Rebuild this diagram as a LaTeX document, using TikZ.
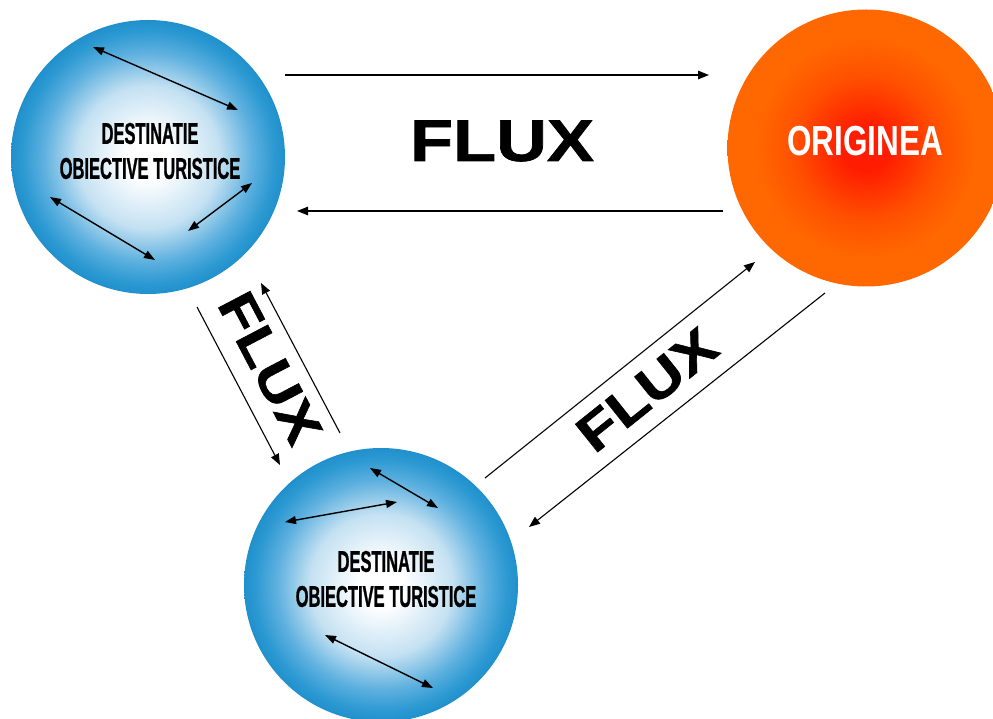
\documentclass[tikz,border=0pt]{standalone}
\usepackage{fontspec}
\setmainfont{Liberation Sans}
\newfontfamily\narrowbold[FakeStretch=0.55,FakeBold=0.8]{Liberation Sans}
\newfontfamily\midbold[FakeStretch=0.75]{Liberation Sans}
\newfontfamily\widebold[FakeStretch=1.2,FakeBold=1.2]{Liberation Sans}
\usetikzlibrary{arrows.meta}

\definecolor{bluelight}{RGB}{196,225,242}
\definecolor{bluemid}{RGB}{95,177,223}
\definecolor{blueout}{RGB}{44,153,210}
\definecolor{blueedge}{RGB}{32,144,204}
\definecolor{orcore}{RGB}{255,28,0}
\definecolor{ormid}{RGB}{255,80,0}
\definecolor{orout}{RGB}{255,104,0}

% radial shadings: the middle 50bp square is fitted to the circle
\pgfdeclareradialshading{bluesphere}{\pgfpoint{0bp}{0bp}}{%
  color(0bp)=(white); color(4bp)=(white); color(13bp)=(bluelight);
  color(19bp)=(bluemid); color(23bp)=(blueout); color(25bp)=(blueedge);
  color(50bp)=(blueedge)}
\pgfdeclareradialshading{orangesphere}{\pgfpoint{0bp}{0bp}}{%
  color(0bp)=(orcore); color(4bp)=(orcore); color(13bp)=(ormid);
  color(20bp)=(orout); color(25bp)=(orout); color(50bp)=(orout)}

\tikzset{
  dest/.style={circle, minimum size=274pt, inner sep=0pt, shading=bluesphere},
  orig/.style={circle, minimum size=277pt, inner sep=0pt, shading=orangesphere},
  flow/.style={line width=1.1pt, -{Triangle[length=11pt,width=8.5pt]}},
  move/.style={line width=1.4pt, {Triangle[length=11pt,width=8pt]}-{Triangle[length=11pt,width=8pt]}},
  desttext/.style={align=center, inner sep=0pt,
    font=\narrowbold\bfseries\fontsize{30}{35}\selectfont},
  fluxtext/.style={inner sep=0pt, font=\widebold\bfseries\fontsize{#1}{#1}\selectfont},
}

\begin{document}
\begin{tikzpicture}[x=1pt, y=-1pt]
\useasboundingbox (0,0) rectangle (993,719);
\clip (0,0) rectangle (993,719);

% the three places
\node[dest] (d1) at (148,157) {};
\node[orig] (o) at (866,148) {};
\node[dest] (d2) at (381,585) {};

\node[desttext] (d1t) at (150,151) {DESTINATIE\\OBIECTIVE TURISTICE};
\node[desttext] (d2t) at (386,579) {DESTINATIE\\OBIECTIVE TURISTICE};
\node[inner sep=0pt, text=white, font=\midbold\bfseries\fontsize{42}{42}\selectfont]
  (ot) at (865,141) {ORIGINEA};

% movements inside the first destination
\coordinate (p1a) at (93,47);   \coordinate (p1b) at (238,110);
\coordinate (p2a) at (252,183); \coordinate (p2b) at (188,231);
\coordinate (p3a) at (50,197);  \coordinate (p3b) at (155,260);
\draw[move] (p1a) -- (p1b);
\draw[move] (p2a) -- (p2b);
\draw[move] (p3a) -- (p3b);

% movements inside the second destination
\coordinate (q1a) at (370,468); \coordinate (q1b) at (438,508);
\coordinate (q2a) at (397,502); \coordinate (q2b) at (285,522);
\coordinate (q3a) at (325,635); \coordinate (q3b) at (433,688);
\draw[move] (q1a) -- (q1b);
\draw[move] (q2a) -- (q2b);
\draw[move] (q3a) -- (q3b);

% flows between the places
\coordinate (f1a) at (285,75);  \coordinate (f1b) at (709,75);
\coordinate (f2a) at (723,211); \coordinate (f2b) at (297,211);
\coordinate (f3a) at (197,307); \coordinate (f3b) at (280,465);
\coordinate (f4a) at (340,433); \coordinate (f4b) at (261,283);
\coordinate (f5a) at (485,478); \coordinate (f5b) at (755,262);
\coordinate (f6a) at (825,293); \coordinate (f6b) at (529,527);
\draw[flow] (f1a) -- (f1b);
\draw[flow] (f2a) -- (f2b);
\draw[flow] (f3a) -- (f3b);
\draw[flow] (f4a) -- (f4b);
\draw[flow] (f5a) -- (f5b);
\draw[flow] (f6a) -- (f6b);

% flow labels
\node[fluxtext=58.7] (lt) at (502,141) {FLUX};
\node[fluxtext=52, rotate=-62.3] (ll) at (270,368) {FLUX};
\node[fluxtext=52, rotate=38.7] (lr) at (647,390) {FLUX};
\end{tikzpicture}
\end{document}
